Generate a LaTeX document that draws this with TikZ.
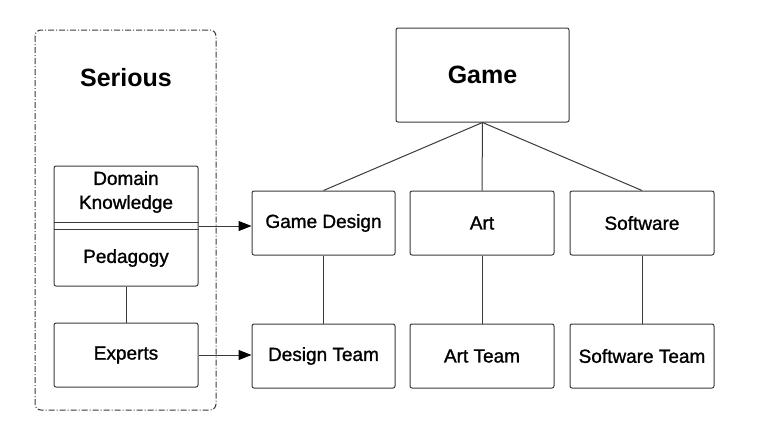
\documentclass[tikz,border=0pt]{standalone}
\usepackage{fontspec}
\setmainfont{Liberation Sans}
\newfontfamily\labelfont[FakeBold=1.2]{Liberation Sans}
\usetikzlibrary{arrows.meta}
\definecolor{linegray}{HTML}{3A3A3A}
\begin{document}
\begin{tikzpicture}[x=1pt,y=-1pt,
  box/.style={draw=linegray, line width=1pt, rounded corners=2pt, inner sep=0pt, font=\labelfont\fontsize{19}{24}\selectfont},
  lbl/.style={inner sep=0pt, font=\labelfont\fontsize{19}{24}\selectfont, align=center},
  big/.style={inner sep=0pt, font=\bfseries\fontsize{25}{30}\selectfont},
  conn/.style={draw=linegray, line width=1pt},
  arr/.style={conn, -{Triangle[length=13pt,width=10pt,color=black]}}]
\useasboundingbox (0,0) rectangle (758,437);
% dashed group
\draw[linegray, line width=1pt, rounded corners=6pt, dash pattern=on 6pt off 2pt on 1pt off 2pt] (35,30) rectangle (216,410);
\node[big] (serious) at (126,78) {Serious};
\node[box, minimum width=144pt, minimum height=120pt] (grp) at (126,226) {};
\coordinate (sepa) at (54,222);
\coordinate (sepb) at (54,229);
\draw[conn] (sepa) -- (sepa -| grp.east);
\draw[conn] (sepb) -- (sepb -| grp.east);
\node[lbl] (dk) at (126,192) {Domain\\Knowledge};
\node[lbl] (ped) at (126,258) {Pedagogy};
\node[box, minimum width=144pt, minimum height=64pt] (exp) at (126,355) {Experts};
% right side
\node[box, font=\bfseries\fontsize{25}{30}\selectfont, minimum width=173pt, minimum height=94pt] (game) at (482.5,75) {Game};
\node[box, minimum width=143pt, minimum height=64pt] (gd) at (323.5,223) {Game Design};
\node[box, minimum width=144pt, minimum height=64pt] (art) at (482,223) {Art};
\node[box, minimum width=144pt, minimum height=64pt] (sw) at (642,223) {Software};
\node[box, minimum width=143pt, minimum height=64pt] (dt) at (323.5,356) {Design Team};
\node[box, minimum width=144pt, minimum height=64pt] (at) at (482,356) {Art Team};
\node[box, minimum width=144pt, minimum height=64pt] (st) at (642,356) {Software Team};
% connectors
\draw[conn] (game.south) -- (gd.north);
\draw[conn] (game.south) -- (art.north);
\draw[conn] (game.south) -- (sw.north);
\draw[conn] (gd.south) -- (dt.north);
\draw[conn] (art.south) -- (at.north);
\draw[conn] (sw.south) -- (st.north);
\draw[conn] (grp.south) -- (exp.north);
\draw[arr] (grp.east) -- (grp.east -| gd.west);
\draw[arr] (exp.east) -- (exp.east -| dt.west);
\end{tikzpicture}
\end{document}
